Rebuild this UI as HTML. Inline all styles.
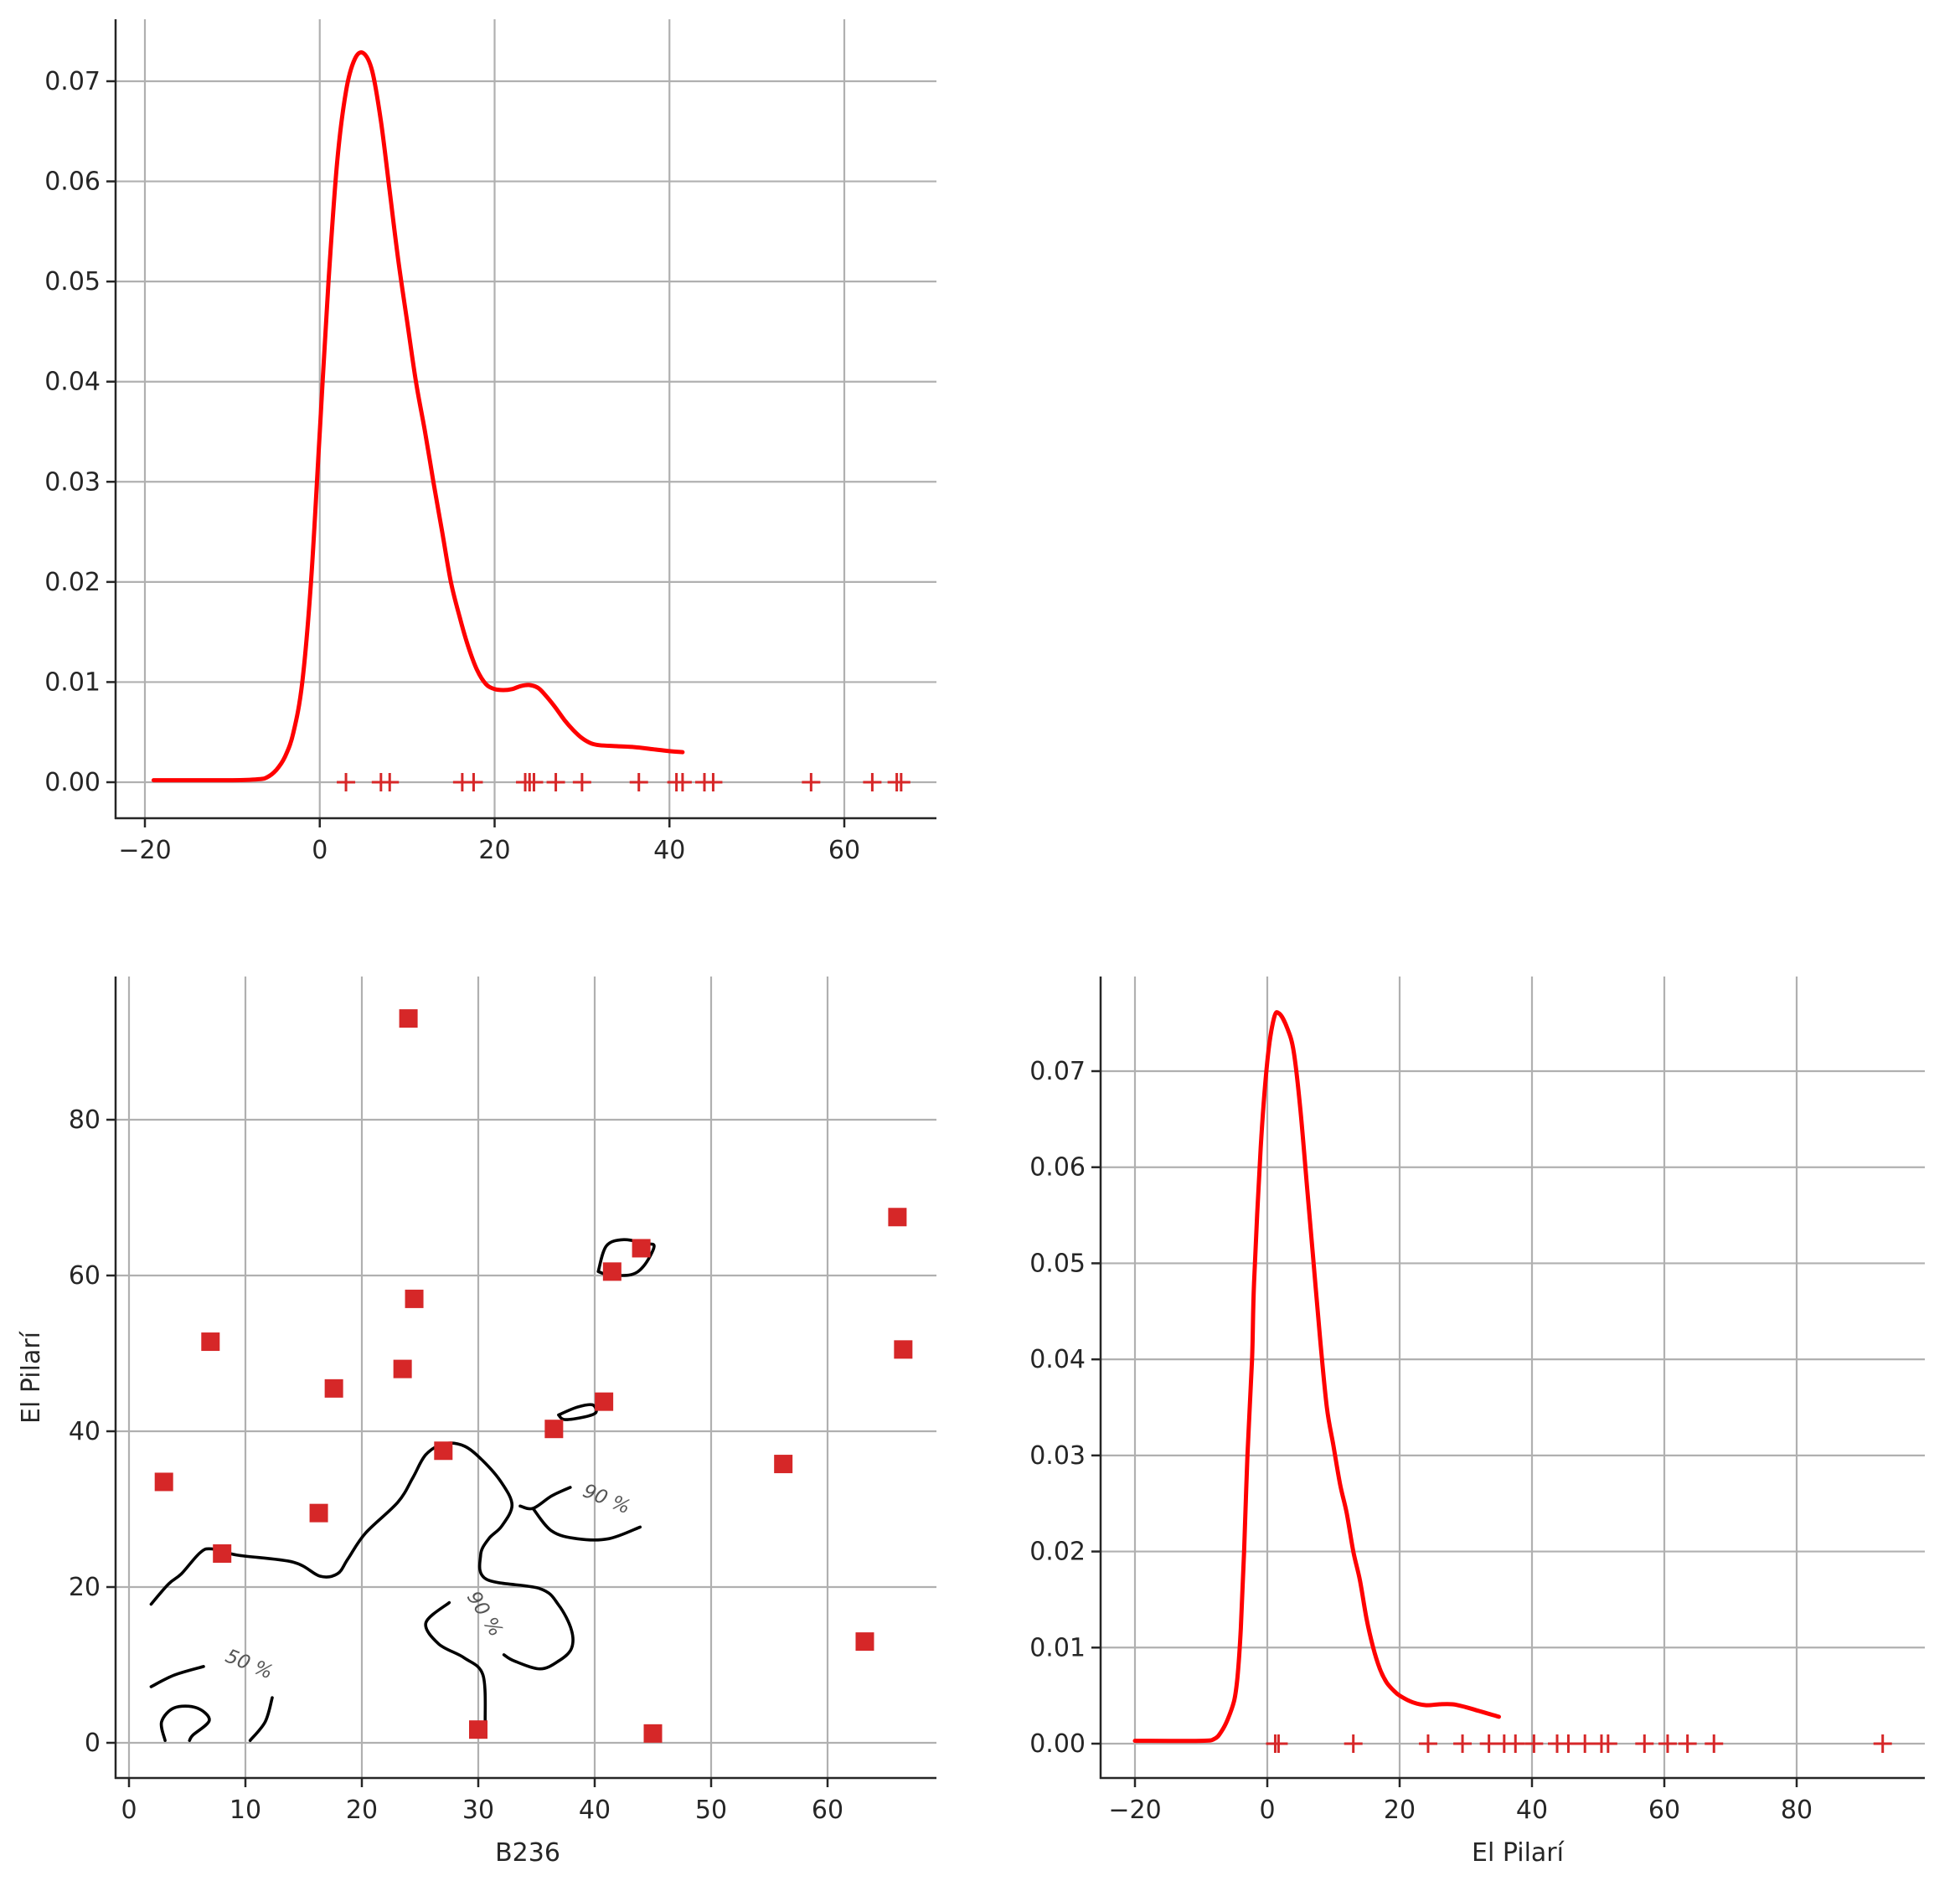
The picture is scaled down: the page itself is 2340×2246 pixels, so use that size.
<!DOCTYPE html>
<html><head><meta charset="utf-8">
<style>
html,body{margin:0;padding:0;background:#fff;}
svg{display:block;}
text{font-family:"DejaVu Sans","Liberation Sans",sans-serif;fill:#262626;}
</style></head>
<body>
<svg id="fig" width="2340" height="2246" viewBox="0 0 2340 2246" xmlns="http://www.w3.org/2000/svg"></svg>
<script>
// ---- data ----
const b236Values = [24, 66, 44, 41.5, 24.5, 7, 66.5, 17.6, 23.5, 40.8, 36.5, 27, 56.2, 3, 16.3, 8, 63.2, 30, 45];
const pilariValues = [93, 67.5, 63.5, 60.5, 57, 51.5, 50.5, 45.5, 48, 43.8, 40.3, 37.5, 35.8, 33.5, 29.5, 24.3, 13, 1.7, 1.2];
const kdeB236X = [-19,-10,-7,-6,-5,-4,-3,-2,-1,0,1,2,3,4,5,6,7,8,9,10,11,12,13,14,15,16,17,18,19,20,21,22,23,24,25,26,27,28,29,30,31,32,34,36,38,40,41.5];
const kdeB236Y = [0.0002,0.0002,0.0003,0.0005,0.0012,0.0025,0.005,0.010,0.020,0.035,0.050,0.062,0.069,0.0722,0.0728,0.071,0.066,0.059,0.052,0.046,0.040,0.0352,0.030,0.025,0.020,0.0165,0.0135,0.0112,0.0098,0.0093,0.0092,0.0093,0.0096,0.0097,0.0094,0.0085,0.0074,0.0062,0.0052,0.0044,0.0039,0.0037,0.0036,0.0035,0.0033,0.0031,0.003];
const kdePilariX = [-20,-10,-8,-7,-6,-5,-4.5,-4,-3.5,-3,-2.3,-2,-1,0,1,1.8,3,4,5,6,7,8,9,10,11,12,13,14,15,16,17,18,19,20,22,24,26,28,30,32,34,35];
const kdePilariY = [0.0003,0.0003,0.0005,0.0012,0.0025,0.0045,0.007,0.012,0.020,0.030,0.040,0.048,0.062,0.071,0.0755,0.076,0.0745,0.072,0.066,0.058,0.050,0.042,0.035,0.031,0.027,0.024,0.020,0.017,0.013,0.010,0.0078,0.0064,0.0056,0.005,0.0043,0.004,0.0041,0.0041,0.0038,0.0034,0.003,0.0028];
const contourA = [[1.9,17.8],[3.4,20.4],[4.5,21.7],[6.1,24.4],[7.1,24.9],[9.3,24.1],[14.1,23.2],[16.4,21.4],[17.9,21.7],[18.8,23.6],[20.3,26.9],[23.1,30.9],[24.4,34.1],[25.5,37.0],[27.1,38.4],[28.8,38.1],[30.4,36.2],[32.0,33.4],[32.9,30.5],[32.0,27.8],[30.9,26.2],[30.2,24.1],[30.7,21.0],[35.3,19.8],[36.9,17.7],[38.0,14.5],[38.0,12.1],[36.9,10.5],[35.3,9.5],[33.1,10.5],[32.2,11.3]];
const contourA2 = [[33.6,30.4],[34.7,30.1],[36.3,31.7],[37.9,32.8]];
const contourA3 = [[34.7,30.1],[36.3,27.2],[38.5,26.2],[41.2,26.2],[43.9,27.7]];
const contourB = [[27.5,18.0],[25.5,15.4],[26.6,12.7],[28.8,10.9],[30.4,8.7],[30.6,2.6]];
const contourC = [[1.9,7.2],[3.9,8.7],[6.4,9.8]];
const contourD = [[3.1,0.3],[2.8,2.7],[3.9,4.5],[5.8,4.5],[6.9,2.9],[5.5,1.0],[5.2,0.3]];
const contourE = [[10.4,0.3],[11.7,2.7],[12.3,5.8]];
const contourF = [[40.3,60.5],[41,63.8],[42.5,64.6],[44.4,64.1],[45.1,63.7],[44.2,61.2],[43.1,60.1],[41.2,60.1],[40.3,60.5]];
const contourG = [[36.9,42.1],[38.5,43.1],[39.8,43.4],[40.1,42.4],[39.0,41.8],[37.4,41.5],[36.9,42.1]];
const topXTicks = [-20,0,20,40,60];
const densityTicks = [0,0.01,0.02,0.03,0.04,0.05,0.06,0.07];
const scatXTicks = [0,10,20,30,40,50,60];
const scatYTicks = [0,20,40,60,80];
const brXTicks = [-20,0,20,40,60,80];

const NS = "http://www.w3.org/2000/svg";
const svg = document.getElementById('fig');
function mk(tag, attrs, parent){ const e=document.createElementNS(NS,tag); for(const k in attrs) e.setAttribute(k,attrs[k]); (parent||svg).appendChild(e); return e; }

function panel(name, box, sx, sy, xt, yt, xfmt, yfmt){
  const g = mk('g',{});
  
  
  xt.forEach(v=>{ const l=mk('line',{x1:sx(v),x2:sx(v),y1:box.t,y2:box.b,stroke:'#b0b0b0','stroke-width':2.2},g);
      });
  yt.forEach(v=>{ const l=mk('line',{x1:box.l,x2:box.r,y1:sy(v),y2:sy(v),stroke:'#b0b0b0','stroke-width':2.2},g);
      });
  const sp1=mk('line',{x1:box.l,x2:box.l,y1:box.t,y2:box.b+1,stroke:'#262626','stroke-width':2.5},g);
   
  const sp2=mk('line',{x1:box.l-1,x2:box.r,y1:box.b,y2:box.b,stroke:'#262626','stroke-width':2.5},g);
   
  xt.forEach(v=>{ mk('line',{x1:sx(v),x2:sx(v),y1:box.b,y2:box.b+11,stroke:'#262626','stroke-width':2.5},g);
    const t=mk('text',{x:sx(v),y:box.b+48,'text-anchor':'middle','font-size':30},g); t.textContent=xfmt(v);
      });
  yt.forEach(v=>{ mk('line',{x1:box.l-11,x2:box.l,y1:sy(v),y2:sy(v),stroke:'#262626','stroke-width':2.5},g);
    const t=mk('text',{x:box.l-18,y:sy(v)+10,'text-anchor':'end','font-size':30},g); t.textContent=yfmt(v);
      });
  return g;
}
function lin(d0,d1,p0,p1){ return v=>p0+(v-d0)*(p1-p0)/(d1-d0); }
const minus = v => (v<0?'\u2212'+Math.abs(v):''+v);
function smooth(pts){
  let d='M'+pts[0][0].toFixed(1)+' '+pts[0][1].toFixed(1);
  for(let i=0;i<pts.length-1;i++){
    const p0=pts[i-1]||pts[i], p1=pts[i], p2=pts[i+1], p3=pts[i+2]||pts[i+1];
    const c1=[p1[0]+(p2[0]-p0[0])/6, p1[1]+(p2[1]-p0[1])/6];
    const c2=[p2[0]-(p3[0]-p1[0])/6, p2[1]-(p3[1]-p1[1])/6];
    d+=` C${c1[0].toFixed(1)} ${c1[1].toFixed(1)} ${c2[0].toFixed(1)} ${c2[1].toFixed(1)} ${p2[0].toFixed(1)} ${p2[1].toFixed(1)}`;
  }
  return d;
}
function pathFrom(xs,ys,sx,sy){ return smooth(xs.map((x,i)=>[sx(x),sy(ys[i])])); }
function rug(g, vals, sx, y){
  vals.forEach(v=>{ const p=mk('path',{d:`M${sx(v)-11} ${y} H${sx(v)+11} M${sx(v)} ${y-11} V${y+11}`,stroke:'#d62728','stroke-width':3,fill:'none'},g);
      });
}

// ---- top panel: B236 KDE ----
const tBox={l:138,r:1118,t:23,b:977};
const tx=lin(-20,60,173,1008), ty=lin(0,0.07,934,97);
const gT=panel('b236-density-panel',tBox,tx,ty,topXTicks,densityTicks,minus,v=>v.toFixed(2));
const kT=mk('path',{d:pathFrom(kdeB236X,kdeB236Y,tx,ty),stroke:'#ff0000','stroke-width':5,fill:'none','stroke-linejoin':'round','stroke-linecap':'round'},gT);
 
rug(gT,b236Values,tx,ty(0));

// ---- bottom-left: scatter ----
const sBox={l:138,r:1118,t:1166,b:2123};
const sx=lin(0,10,154,293), sy=lin(0,80,2081,1337);
const gS=panel('scatter-panel',sBox,sx,sy,scatXTicks,scatYTicks,v=>''+v,v=>''+v);
[contourA,contourA2,contourA3,contourB,contourC,contourD,contourE,contourF,contourG].forEach(c=>{
  const p=mk('path',{d:pathFrom(c.map(q=>q[0]),c.map(q=>q[1]),sx,sy),stroke:'#000','stroke-width':3.6,fill:'none','stroke-linejoin':'round','stroke-linecap':'round'},gS);
   
});
const contourLabels=[['90 %',41,31.2,22],['90 %',30.5,16.5,58],['50 %',10.3,10,22]];
contourLabels.forEach(c=>{ const t=mk('text',{x:sx(c[1]),y:sy(c[2]),'text-anchor':'middle','dominant-baseline':'middle','font-size':23,'font-style':'italic',style:'fill:#555',transform:`rotate(${c[3]} ${sx(c[1])} ${sy(c[2])})`},gS);
  t.textContent=c[0];   });
b236Values.forEach((v,i)=>{ const r=mk('rect',{x:sx(v)-11,y:sy(pilariValues[i])-11,width:22,height:22,fill:'#d62728'},gS);
    });
const xl=mk('text',{x:630,y:2222,'text-anchor':'middle','font-size':30},gS); xl.textContent='B236';
 
const yl=mk('text',{x:0,y:0,'text-anchor':'middle','font-size':30,transform:'translate(47 1645) rotate(-90)'},gS); yl.textContent='El Pilarí';
 

// ---- bottom-right: El Pilarí KDE ----
const rBox={l:1314,r:2298,t:1166,b:2123};
const rx=lin(0,20,1513,1671), ry=lin(0,0.07,2082,1279);
const gR=panel('pilari-density-panel',rBox,rx,ry,brXTicks,densityTicks,minus,v=>v.toFixed(2));
const kR=mk('path',{d:pathFrom(kdePilariX,kdePilariY,rx,ry),stroke:'#ff0000','stroke-width':5,fill:'none','stroke-linejoin':'round','stroke-linecap':'round'},gR);
 
rug(gR,pilariValues,rx,ry(0));
const xl2=mk('text',{x:1812,y:2222,'text-anchor':'middle','font-size':30},gR); xl2.textContent='El Pilarí';
 
</script>
</body></html>
